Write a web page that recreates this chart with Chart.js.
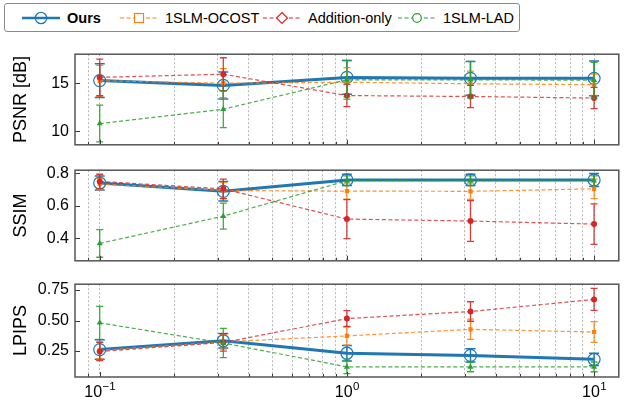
<!DOCTYPE html>
<html>
<head>
<meta charset="utf-8">
<script src="https://cdn.jsdelivr.net/npm/chart.js@4.4.1/dist/chart.umd.min.js"></script>
<style>
  body { margin: 0; background: #fff; width: 626px; height: 407px; position: relative; overflow: hidden;
         font-family: "Liberation Sans", Arial, sans-serif; }
  .panel { position: absolute; left: 0; }
  #legend { position: absolute; left: 4px; top: 3px; width: 516px; height: 29px; box-sizing: border-box;
            border: 1px solid #8a8a8a; border-radius: 3px; font-size: 14.5px; color: #000; }
  .item { position: absolute; top: 0; height: 27px; display: flex; align-items: center; white-space: nowrap; }
  .item svg { margin-right: 7px; }
</style>
</head>
<body>
<div id="legend">
  <div class="item" style="left:17px">
    <svg width="38" height="20"><line x1="0" y1="10" x2="38" y2="10" stroke="#1f77b4" stroke-width="2.5"/>
      <circle cx="19" cy="10" r="5.7" fill="none" stroke="#1f77b4" stroke-width="1.2"/></svg>
    <b>Ours</b>
  </div>
  <div class="item" style="left:115px">
    <svg width="38" height="20"><line x1="0" y1="10" x2="38" y2="10" stroke="#ff7f0e" stroke-width="1.2" stroke-dasharray="4 2.5"/>
      <rect x="14.5" y="5.5" width="9" height="9" fill="#fff" stroke="#ff7f0e" stroke-width="1.2"/></svg>
    <span>1SLM-OCOST</span>
  </div>
  <div class="item" style="left:258px">
    <svg width="38" height="20"><line x1="0" y1="10" x2="38" y2="10" stroke="#d62728" stroke-width="1.2" stroke-dasharray="4 2.5"/>
      <polygon points="19,4.5 24.5,10 19,15.5 13.5,10" fill="#fff" stroke="#d62728" stroke-width="1.2"/></svg>
    <span>Addition-only</span>
  </div>
  <div class="item" style="left:393px">
    <svg width="38" height="20"><line x1="0" y1="10" x2="38" y2="10" stroke="#2ca02c" stroke-width="1.2" stroke-dasharray="4 2.5"/>
      <circle cx="19" cy="10" r="4.3" fill="#fff" stroke="#2ca02c" stroke-width="1.2"/></svg>
    <span>1SLM-LAD</span>
  </div>
</div>

<div class="panel" style="top:47px"><canvas id="psnr" width="626" height="105"></canvas></div>
<div class="panel" style="top:163px"><canvas id="ssim" width="626" height="105"></canvas></div>
<div class="panel" style="top:277px"><canvas id="lpips" width="626" height="130"></canvas></div>

<script>
// x positions (log scale) and tick lists
const xValues = [0.1, 0.3162, 1, 3.162, 10];
const xMajor = [0.1, 1, 10];
const xMajorExp = ["\u22121", "0", "1"];
const xGridTicks = [0.09, 0.1, 0.2, 0.3, 0.4, 0.5, 0.6, 0.7, 0.8, 0.9,
                    1, 2, 3, 4, 5, 6, 7, 8, 9, 10];

// PSNR [dB]
const psnrTicks = [10, 15];
const psnrTickLabels = ["10", "15"];
const psnrOurs = [15.27, 14.77, 15.6, 15.5, 15.5];
const psnrOursErr = [1.75, 1.4, 1.75, 1.75, 1.8];
const psnrOcost = [15.25, 15.0, 15.1, 14.94, 14.84];
const psnrOcostErr = [1.6, 1.5, 1.5, 1.3, 1.1];
const psnrAdd = [15.6, 15.93, 13.72, 13.62, 13.46];
const psnrAddErr = [1.9, 1.7, 1.15, 1.15, 1.1];
const psnrLad = [10.82, 12.3, 15.35, 15.35, 15.3];
const psnrLadErr = [1.9, 1.9, 2.0, 1.9, 1.85];

// SSIM
const ssimTicks = [0.4, 0.6, 0.8];
const ssimTickLabels = ["0.4", "0.6", "0.8"];
const ssimOurs = [0.741, 0.69, 0.76, 0.76, 0.76];
const ssimOursErr = [0.043, 0.06, 0.035, 0.035, 0.04];
const ssimOcost = [0.735, 0.695, 0.691, 0.69, 0.705];
const ssimOcostErr = [0.035, 0.05, 0.05, 0.05, 0.06];
const ssimAdd = [0.751, 0.705, 0.519, 0.507, 0.488];
const ssimAddErr = [0.044, 0.06, 0.12, 0.125, 0.125];
const ssimLad = [0.369, 0.537, 0.755, 0.755, 0.755];
const ssimLadErr = [0.085, 0.08, 0.03, 0.03, 0.03];

// LPIPS
const lpipsTicks = [0.25, 0.5, 0.75];
const lpipsTickLabels = ["0.25", "0.50", "0.75"];
const lpipsOurs = [0.262, 0.334, 0.232, 0.214, 0.182];
const lpipsOursErr = [0.08, 0.06, 0.063, 0.055, 0.05];
const lpipsOcost = [0.255, 0.325, 0.374, 0.428, 0.406];
const lpipsOcostErr = [0.07, 0.06, 0.075, 0.083, 0.085];
const lpipsAdd = [0.246, 0.32, 0.516, 0.574, 0.673];
const lpipsAddErr = [0.075, 0.07, 0.065, 0.08, 0.09];
const lpipsLad = [0.481, 0.316, 0.12, 0.12, 0.12];
const lpipsLadErr = [0.135, 0.12, 0.055, 0.04, 0.04];

const FONT = '"Liberation Sans", Arial, sans-serif';
Chart.defaults.font.family = FONT;
Chart.defaults.color = "#000";

// error bars are drawn just before their own line, so later series sit on top
const errorBars = {
  id: "errorBars",
  beforeDatasetDraw(chart, args) {
    const ds = chart.data.datasets[args.index];
    if (!ds.errors) return;
    const { ctx, chartArea: a, scales: { x, y } } = chart;
    ctx.save();
    ctx.beginPath();
    ctx.rect(a.left, a.top, a.right - a.left, a.bottom - a.top);
    ctx.clip();
    ctx.strokeStyle = ds.errColor;
    ctx.lineWidth = ds.errWidth;
    ds.data.forEach((p, i) => {
      const px = x.getPixelForValue(p.x);
      const top = y.getPixelForValue(p.y + ds.errors[i]);
      const bot = y.getPixelForValue(p.y - ds.errors[i]);
      ctx.beginPath();
      ctx.moveTo(px, top); ctx.lineTo(px, bot);
      ctx.moveTo(px - ds.cap, top); ctx.lineTo(px + ds.cap, top);
      ctx.moveTo(px - ds.cap, bot); ctx.lineTo(px + ds.cap, bot);
      ctx.stroke();
    });
    ctx.restore();
  },
};

// axes frame + inward tick marks
const frame = {
  id: "frame",
  afterDraw(chart) {
    const { ctx, chartArea: a, scales: { x, y } } = chart;
    ctx.save();
    ctx.strokeStyle = "#3a3a3a";
    ctx.lineWidth = 1;
    ctx.beginPath();
    x.ticks.forEach((t) => {
      const px = Math.round(x.getPixelForValue(t.value)) + 0.5;
      const len = xMajor.includes(t.value) ? 5 : 3;
      ctx.moveTo(px, a.bottom); ctx.lineTo(px, a.bottom - len);
    });
    y.ticks.forEach((t) => {
      const py = Math.round(y.getPixelForValue(t.value)) + 0.5;
      ctx.moveTo(a.left, py); ctx.lineTo(a.left + 5, py);
    });
    ctx.stroke();
    ctx.strokeStyle = "#555";
    ctx.lineWidth = 1.5;
    ctx.strokeRect(a.left, a.top, a.right - a.left, a.bottom - a.top);
    ctx.restore();
  },
};

// "10" with a raised exponent under each decade, placed by the x scale
const powerLabels = {
  id: "powerLabels",
  afterDraw(chart) {
    const { ctx, chartArea: a, scales: { x } } = chart;
    ctx.save();
    ctx.fillStyle = "#000";
    ctx.textBaseline = "alphabetic";
    ctx.textAlign = "left";
    xMajor.forEach((v, i) => {
      ctx.font = "16px " + FONT;
      const wb = ctx.measureText("10").width;
      ctx.font = "11.5px " + FONT;
      const we = ctx.measureText(xMajorExp[i]).width;
      const left = x.getPixelForValue(v) - (wb + we) / 2;
      const baseY = a.bottom + 20;
      ctx.font = "16px " + FONT;
      ctx.fillText("10", left, baseY);
      ctx.font = "11.5px " + FONT;
      ctx.fillText(xMajorExp[i], left + wb + 0.5, baseY - 7.5);
    });
    ctx.restore();
  },
};

function pts(arr) {
  return xValues.map((x, i) => ({ x, y: arr[i] }));
}

function series(ours, oursErr, ocost, ocostErr, add, addErr, lad, ladErr) {
  return [
    {
      label: "Ours", data: pts(ours), errors: oursErr, order: 3,
      borderColor: "#1f77b4", borderWidth: 3,
      pointStyle: "circle", pointRadius: 6, pointBorderWidth: 1.2,
      pointBorderColor: "#1f77b4", pointBackgroundColor: "rgba(0,0,0,0)",
      errColor: "#1f77b4", errWidth: 1.5, cap: 5,
    },
    {
      label: "1SLM-OCOST", data: pts(ocost), errors: ocostErr, order: 2,
      borderColor: "rgba(255,127,14,0.85)", borderWidth: 1.2, borderDash: [4, 2.5],
      pointStyle: "rect", pointRadius: 3, pointBorderWidth: 0,
      pointBackgroundColor: "#ff7f0e",
      errColor: "rgba(255,127,14,0.9)", errWidth: 1.3, cap: 3.5,
    },
    {
      label: "Addition-only", data: pts(add), errors: addErr, order: 1,
      borderColor: "rgba(214,39,40,0.8)", borderWidth: 1.2, borderDash: [4, 2.5],
      pointStyle: "circle", pointRadius: 3, pointBorderWidth: 0,
      pointBackgroundColor: "#d62728",
      errColor: "rgba(214,39,40,0.9)", errWidth: 1.3, cap: 3.5,
    },
    {
      label: "1SLM-LAD", data: pts(lad), errors: ladErr, order: 0,
      borderColor: "rgba(44,160,44,0.85)", borderWidth: 1.2, borderDash: [4, 2.5],
      pointStyle: "triangle", pointRadius: 3.5, pointBorderWidth: 0,
      pointBackgroundColor: "#2ca02c",
      errColor: "rgba(44,160,44,0.9)", errWidth: 1.3, cap: 3.5,
    },
  ];
}

function makeChart(id, title, yMin, yMax, yTicks, yLabels, datasets, showX) {
  return new Chart(document.getElementById(id), {
    type: "line",
    data: { datasets },
    plugins: showX ? [errorBars, frame, powerLabels] : [errorBars, frame],
    options: {
      responsive: false,
      animation: false,
      devicePixelRatio: 1,
      events: [],
      layout: { padding: { top: 5, right: 4, bottom: showX ? 0 : 5, left: 0 } },
      plugins: { legend: { display: false }, tooltip: { enabled: false } },
      elements: { line: { tension: 0, fill: false } },
      scales: {
        x: {
          type: "logarithmic",
          min: Math.pow(10, -1.1),
          max: Math.pow(10, 1.1),
          afterBuildTicks: (s) => { s.ticks = xGridTicks.map((v) => ({ value: v })); },
          afterFit: (s) => {
            s.height = showX ? 30 : 0;
            s.paddingLeft = 0;
            s.paddingRight = 0;
          },
          grid: { color: "#b5b5b5", lineWidth: 1, drawTicks: false },
          border: { display: false, dash: [2, 2] },
          ticks: { display: false, autoSkip: false, maxRotation: 0 },
        },
        y: {
          min: yMin,
          max: yMax,
          afterBuildTicks: (s) => { s.ticks = yTicks.map((v) => ({ value: v })); },
          afterFit: (s) => {
            s.width = 75;
            s.paddingTop = 0;
            s.paddingBottom = 0;
          },
          grid: { display: false, drawTicks: false },
          border: { display: false },
          ticks: {
            padding: 6,
            font: { size: 16 },
            callback: (v) => yLabels[yTicks.indexOf(v)],
          },
          title: {
            display: true,
            text: title,
            font: { size: 18 },
            padding: { top: 10, bottom: 0 },
          },
        },
      },
    },
  });
}

makeChart("psnr", "PSNR [dB]", 8.62, 18.0, psnrTicks, psnrTickLabels,
  series(psnrOurs, psnrOursErr, psnrOcost, psnrOcostErr, psnrAdd, psnrAddErr, psnrLad, psnrLadErr), false);
makeChart("ssim", "SSIM", 0.262, 0.82, ssimTicks, ssimTickLabels,
  series(ssimOurs, ssimOursErr, ssimOcost, ssimOcostErr, ssimAdd, ssimAddErr, ssimLad, ssimLadErr), false);
makeChart("lpips", "LPIPS", 0.037, 0.798, lpipsTicks, lpipsTickLabels,
  series(lpipsOurs, lpipsOursErr, lpipsOcost, lpipsOcostErr, lpipsAdd, lpipsAddErr, lpipsLad, lpipsLadErr), true);
</script>
</body>
</html>
